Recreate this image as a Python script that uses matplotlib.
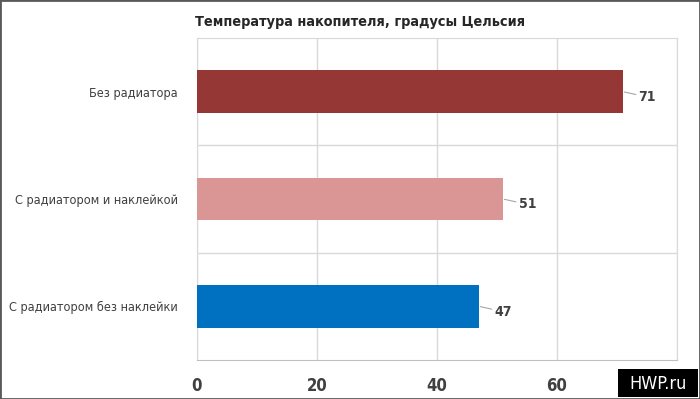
import matplotlib
matplotlib.use("Agg")
import matplotlib.pyplot as plt
from matplotlib import font_manager

# Data
categories = ["Без радиатора", "С радиатором и наклейкой", "С радиатором без наклейки"]
values = [71, 51, 47]
bar_colors = ["#953735", "#D99694", "#0070C0"]
x_ticks = [0, 20, 40, 60]
title = "Температура накопителя, градусы Цельсия"

# the reference uses a condensed font, DejaVu Sans Condensed is the closest here
cond = {(f.name, f.stretch) for f in font_manager.fontManager.ttflist
        if str(f.stretch) not in ("normal", "400", "500")}
plt.rcParams["font.family"] = ["DejaVu Sans"]
if any(n == "DejaVu Sans" for n, s in cond):
    plt.rcParams["font.stretch"] = "condensed"

fig = plt.figure(figsize=(7, 3.99), dpi=100)
ax = fig.add_axes([197 / 700, 1 - 360 / 399, 480 / 700, 322 / 399])

pos = list(range(len(categories)))
ax.barh(pos, values, height=0.4, color=bar_colors, zorder=3)
ax.set_ylim(len(categories) - 0.5, -0.5)
ax.set_xlim(0, 80)

ax.set_xticks(x_ticks)
ax.set_xticklabels([str(t) for t in x_ticks], fontsize=12, fontweight="bold", color="#404040")
ax.set_yticks(pos)
ax.set_yticklabels(categories, fontsize=9.1, color="#404040")
ax.tick_params(axis="both", length=0)
ax.tick_params(axis="x", pad=12)
ax.tick_params(axis="y", pad=14)

# grid: vertical at ticks, horizontal between categories
ax.set_xticks([80], minor=True)
ax.set_yticks([0.5, 1.5], minor=True)
ax.grid(True, axis="x", which="both", color="#D9D9D9", linewidth=1, zorder=0)
ax.grid(True, axis="y", which="minor", color="#D9D9D9", linewidth=1, zorder=0)
ax.tick_params(which="minor", length=0)
for side in ["top", "right", "left"]:
    ax.spines[side].set_color("#D9D9D9")
ax.spines["bottom"].set_color("#BFBFBF")

# value labels with short leader lines
for p, v in zip(pos, values):
    ax.annotate(str(v), xy=(v, p), xytext=(v + 2.6, p + 0.05),
                fontsize=10, fontweight="bold", color="#404040",
                va="center", ha="left",
                arrowprops=dict(arrowstyle="-", color="#A6A6A6", lw=0.8,
                                shrinkA=0, shrinkB=1))

fig.text(195 / 700, 1 - 22 / 399, title, fontsize=10.4, fontweight="bold",
         color="#262626", ha="left", va="center")

# frame around the whole picture
fig.add_artist(plt.Rectangle((0, 0), 1, 1, transform=fig.transFigure,
                             fill=False, edgecolor="#595959", linewidth=2))

# watermark box
fig.add_artist(plt.Rectangle((618 / 700, 2 / 399), 80 / 700, 28 / 399,
                             transform=fig.transFigure, facecolor="black",
                             edgecolor="none"))
fig.text(658 / 700, 1 - 384 / 399, "HWP.ru", fontsize=13, color="white",
         ha="center", va="center")

fig.savefig("out.png", dpi=100)
